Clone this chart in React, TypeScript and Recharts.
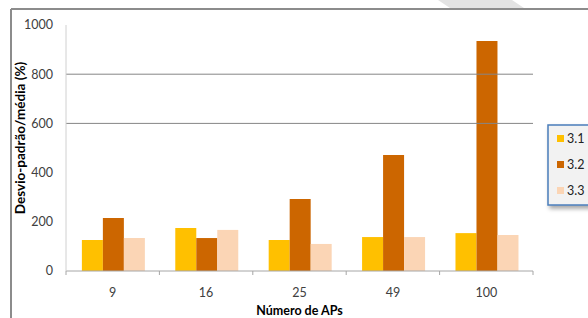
import { Bar, BarChart, ReferenceLine, XAxis, YAxis } from 'recharts';

const categories = ['9', '16', '25', '49', '100'];
const series31 = [126, 175, 126, 138, 154];
const series32 = [215, 134, 293, 472, 935];
const series33 = [134, 167, 110, 138, 146];
const yTicks = [0, 200, 400, 600, 800, 1000];
const gridValues = [600, 800];

const data = categories.map((name, i) => ({
  name,
  s31: series31[i],
  s32: series32[i],
  s33: series33[i],
}));

const W = 588;
const H = 318;
const PLOT_LEFT = 66;
const PLOT_RIGHT = 533;
const BAND = (PLOT_RIGHT - PLOT_LEFT) / categories.length;
const FONT = 'Lato, "Open Sans", sans-serif';

const legendItems = [
  { label: '3.1', color: '#FFC000' },
  { label: '3.2', color: '#CC6600' },
  { label: '3.3', color: '#FBD5B5' },
];

function XTick(props: any) {
  const { x, y, payload, index } = props;
  const isLast = index === categories.length - 1;
  return (
    <g>
      <line x1={x - BAND / 2} x2={x - BAND / 2} y1={y - 8} y2={y - 4} stroke="#a6a6a6" />
      {isLast && (
        <line x1={x + BAND / 2} x2={x + BAND / 2} y1={y - 8} y2={y - 4} stroke="#a6a6a6" />
      )}
      <text x={x} y={y + 18} textAnchor="middle" fill="#404040" fontSize={12.5} fontFamily={FONT}>
        {payload.value}
      </text>
    </g>
  );
}

export default function App() {
  return (
    <div style={{ position: 'absolute', left: 0, top: 0, width: W, height: H, background: '#fff' }}>
      <BarChart
        width={W}
        height={H}
        data={data}
        margin={{ top: 25, right: W - PLOT_RIGHT, bottom: 17, left: 0 }}
        barCategoryGap="17%"
        barGap={0}
      >
        {gridValues.map((v) => (
          <ReferenceLine key={v} y={v} stroke="#868686" strokeWidth={1} />
        ))}
        <XAxis
          dataKey="name"
          height={30}
          axisLine={{ stroke: '#a6a6a6' }}
          tickLine={false}
          tick={<XTick />}
          interval={0}
        />
        <YAxis
          width={PLOT_LEFT}
          domain={[0, 1000]}
          ticks={yTicks}
          axisLine={{ stroke: '#d0d0d0' }}
          tickLine={false}
          tickMargin={7}
          tick={{ fill: '#404040', fontSize: 12.5, fontFamily: FONT }}
        />
        <Bar dataKey="s31" fill="#FFC000" isAnimationActive={false} />
        <Bar dataKey="s32" fill="#CC6600" isAnimationActive={false} />
        <Bar dataKey="s33" fill="#FBD5B5" isAnimationActive={false} />
      </BarChart>
      <svg
        width={W}
        height={H}
        style={{ position: 'absolute', left: 0, top: 0, pointerEvents: 'none' }}
      >
        <defs>
          <filter id="shadow" x="-20%" y="-20%" width="140%" height="140%">
            <feDropShadow dx="2" dy="3" stdDeviation="2" floodColor="#000" floodOpacity="0.35" />
          </filter>
        </defs>
        <polygon points="438,0 512,0 524,8 450,8" fill="#e3e3e3" />
        <line x1={11} y1={9} x2={W} y2={9} stroke="#8c8c8c" strokeWidth={2} />
        <line x1={11} y1={9} x2={11} y2={H} stroke="#8c8c8c" strokeWidth={2} />
        <text
          x={0}
          y={0}
          transform="translate(25,138) rotate(-90)"
          textAnchor="middle"
          fontSize={13.5}
          fontWeight="bold"
          fill="#000"
          fontFamily={FONT}
        >
          Desvio-padrão/média (%)
        </text>
        <text
          x={(PLOT_LEFT + PLOT_RIGHT) / 2}
          y={315}
          textAnchor="middle"
          fontSize={12.5}
          fontWeight="bold"
          fill="#000"
          fontFamily={FONT}
        >
          Número de APs
        </text>
        <rect
          x={548}
          y={125}
          width={50}
          height={80}
          fill="#f2f2f2"
          stroke="#4a7ebb"
          strokeWidth={1.5}
          filter="url(#shadow)"
        />
        {legendItems.map((it, i) => (
          <g key={it.label}>
            <rect x={557} y={135 + i * 26} width={7} height={7} fill={it.color} />
            <text x={567} y={143 + i * 26} fontSize={12.5} fill="#222" fontFamily={FONT}>
              {it.label}
            </text>
          </g>
        ))}
      </svg>
    </div>
  );
}
